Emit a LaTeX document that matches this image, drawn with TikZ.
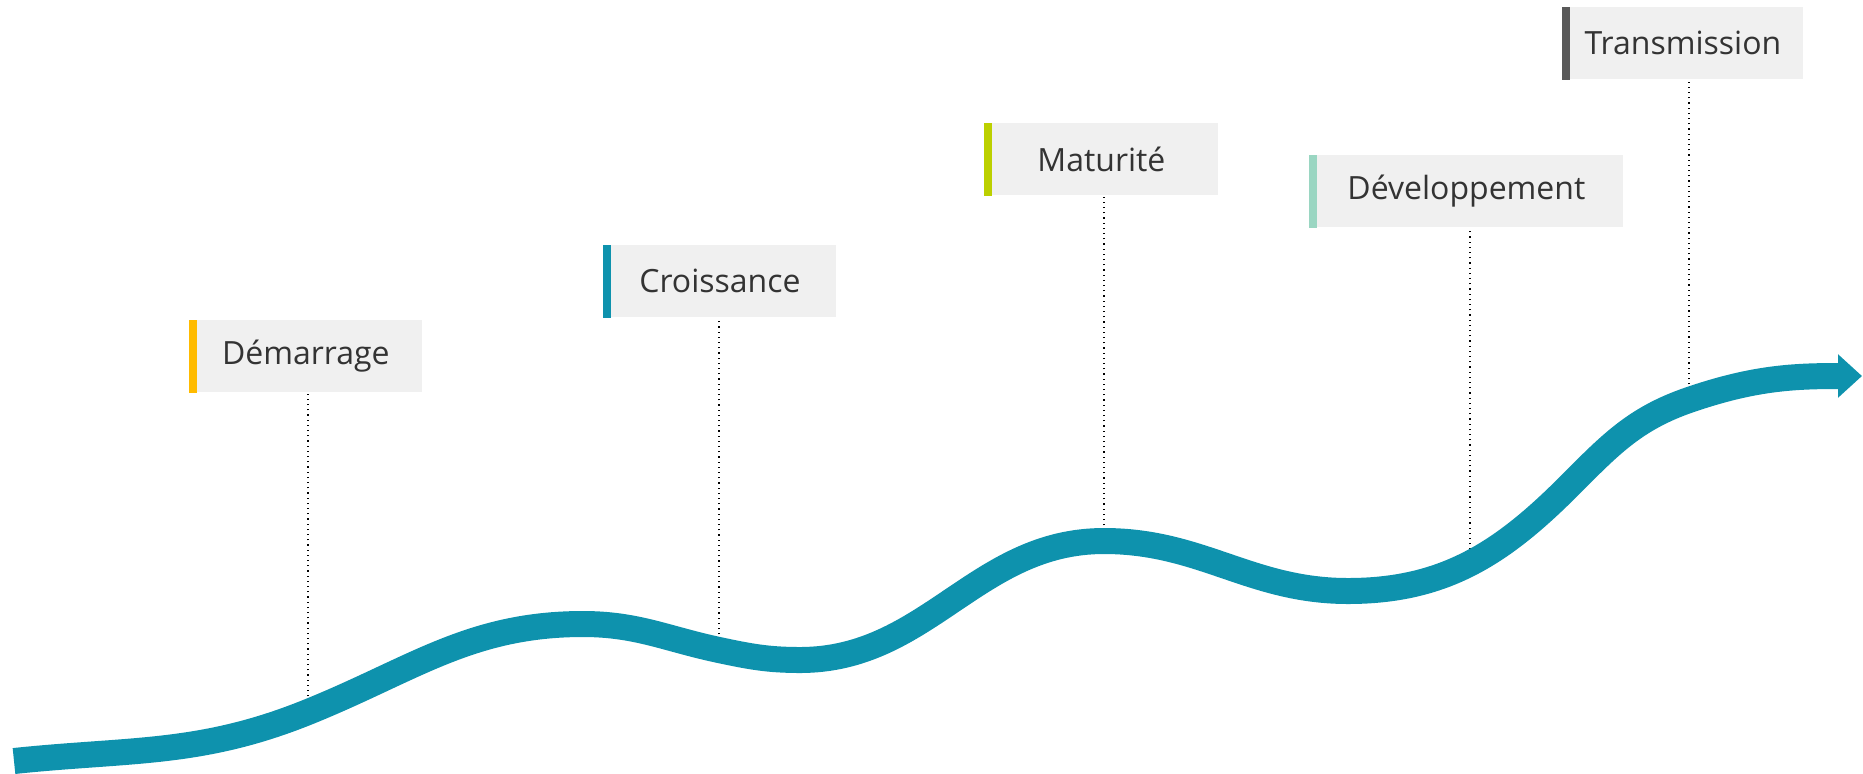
\documentclass[tikz,border=0pt]{standalone}
\usepackage{fontspec}
\setmainfont{Open Sans}
\usetikzlibrary{arrows.meta}

\definecolor{waveblue}{HTML}{0E92AD}
\definecolor{boxgrey}{HTML}{F0F0F0}
\definecolor{txtgrey}{HTML}{333333}
\definecolor{barstart}{HTML}{FFBB00}
\definecolor{bargrow}{HTML}{0E92AD}
\definecolor{barmature}{HTML}{BCD000}
\definecolor{bardevel}{HTML}{9AD6C2}
\definecolor{barhand}{HTML}{595959}

\tikzset{
	phase/.style={fill=boxgrey, text=txtgrey, anchor=north west, inner sep=0pt,
		minimum height=36pt, font=\fontsize{16}{19}\selectfont},
	wave/.style={draw=waveblue, line width=13pt, line cap=butt,
		-{Triangle[width=21pt, length=12pt]}},
	guide/.style={draw=black, line width=0.6pt, dotted},
}

\begin{document}
\begin{tikzpicture}[x=0.5pt, y=-0.5pt]
	\useasboundingbox (0,0) rectangle (1863,773);
	
	% labels
	\node[phase, minimum width=116.5pt] (dem) at (189,320) {Démarrage};
	\node[phase, minimum width=116.5pt] (cro) at (603,245) {Croissance};
	\node[phase, minimum width=117pt]   (mat) at (984,123) {Maturité};
	\node[phase, minimum width=157pt]   (dev) at (1309,155) {Développement};
	\node[phase, minimum width=120.5pt] (tra) at (1562,7) {Transmission};
	
	% coloured bars
	\fill[barstart]  (dem.north west) rectangle ([xshift=4pt]dem.south west);
	\fill[bargrow]   (cro.north west) rectangle ([xshift=4pt]cro.south west);
	\fill[barmature] (mat.north west) rectangle ([xshift=4pt]mat.south west);
	\fill[bardevel]  (dev.north west) rectangle ([xshift=4pt]dev.south west);
	\fill[barhand]   (tra.north west) rectangle ([xshift=4pt]tra.south west);
	
	% points on the curve
	\coordinate (w-start) at (14,761);
	\coordinate (p-dem)   at (308,712);
	\coordinate (w-top)   at (583,624);
	\coordinate (p-cro)   at (719,650);
	\coordinate (w-low)   at (800,660);
	\coordinate (p-mat)   at (1104,541);
	\coordinate (w-dip)   at (1348,591);
	\coordinate (p-dev)   at (1470,560);
	\coordinate (w-bend)  at (1568,487);
	\coordinate (p-tra)   at (1689,400);
	\coordinate (w-end)   at (1862,376);
	
	% dotted guides
	\draw[guide] (p-dem) -- (p-dem |- dem.south);
	\draw[guide] (p-cro) -- (p-cro |- cro.south);
	\draw[guide] (p-mat) -- (p-mat |- mat.south);
	\draw[guide] (p-dev) -- (p-dev |- dev.south);
	\draw[guide] (p-tra) -- (p-tra |- tra.south);
	
	% the wave
	\draw[wave] (w-start) to[out=6, in=202] (p-dem)
		to[out=22, in=180] (w-top)
		to[out=0, in=168] (p-cro)
		to[out=-12, in=180] (w-low)
		to[out=0, in=180] (p-mat)
		to[out=0, in=180] (w-dip)
		to[out=0, in=225] (w-bend)
		to[out=45, in=199] (p-tra)
		to[out=19, in=180] (w-end);
	
\end{tikzpicture}
\end{document}
